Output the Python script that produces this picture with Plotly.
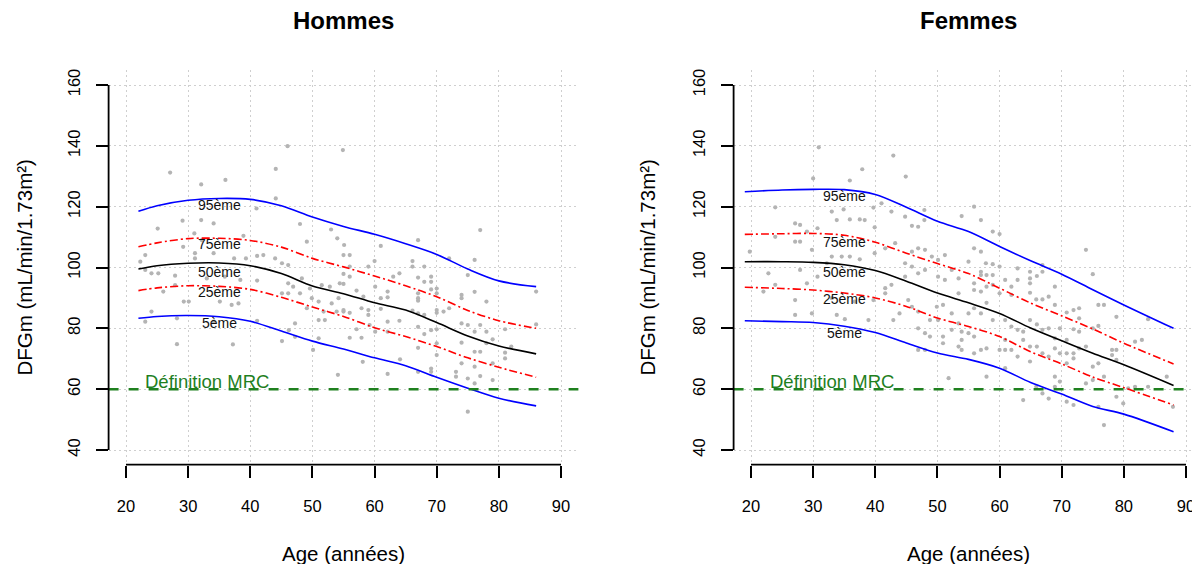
import plotly.graph_objects as go

# ---------------- data ----------------
PANEL_TITLES = ["Hommes", "Femmes"]
PCT_LABELS = ["95ème", "75ème", "50ème", "25ème", "5ème"]
X_TICKS = [20, 30, 40, 50, 60, 70, 80, 90]
Y_TICKS = [40, 60, 80, 100, 120, 140, 160]
MRC_THRESHOLD = 60
MRC_LABEL = "Définition MRC"

# Men percentile curves
men_curve_age = [22, 25, 30, 35, 40, 45, 50, 55, 60, 65, 70, 75, 80, 86]
men_p95 = [118.5, 120.3, 122.1, 122.7, 122.4, 120.3, 116.6, 113.5, 110.9, 107.8, 104.3, 99.5, 95.6, 93.7]
men_p75 = [106.8, 108.1, 109.5, 109.6, 108.9, 106.7, 103.0, 100.2, 97.2, 94.0, 90.4, 85.9, 82.5, 80.0]
men_p50 = [99.5, 100.6, 101.4, 101.5, 100.6, 98.0, 93.9, 91.4, 88.4, 86.0, 81.9, 77.5, 74.2, 71.6]
men_p25 = [92.4, 93.3, 94.0, 93.8, 92.8, 90.2, 87.0, 83.9, 80.2, 77.3, 74.0, 70.3, 67.2, 63.9]
men_p05 = [83.3, 83.9, 84.2, 83.8, 82.3, 79.1, 75.8, 73.2, 70.3, 67.7, 63.9, 60.3, 57.0, 54.5]
men_label_y = [120.6, 107.7, 98.6, 91.8, 81.7]

# Women percentile curves
women_curve_age = [19, 25, 30, 35, 40, 45, 50, 55, 60, 65, 70, 75, 80, 88]
women_p95 = [124.9, 125.5, 125.7, 125.6, 124.0, 119.8, 115.2, 111.8, 106.9, 102.2, 97.8, 92.7, 87.7, 80.0]
women_p75 = [110.9, 111.1, 111.2, 110.6, 108.3, 104.7, 101.3, 98.0, 93.2, 88.3, 84.1, 79.8, 75.1, 68.3]
women_p50 = [101.9, 101.9, 101.7, 100.9, 99.0, 95.5, 91.6, 88.4, 84.9, 80.1, 75.9, 71.8, 68.0, 61.2]
women_p25 = [93.5, 93.1, 92.6, 91.6, 90.0, 87.2, 83.4, 80.6, 77.3, 72.3, 68.3, 64.0, 60.5, 54.8]
women_p05 = [82.5, 82.2, 81.9, 80.7, 78.6, 75.2, 71.9, 69.8, 66.9, 62.2, 58.4, 54.3, 51.8, 46.0]
women_label_y = [123.5, 108.5, 98.6, 89.7, 78.6]

men_age = [27.1, 32.1, 36.0, 44.1, 46.0, 32.1, 34.1, 29.1, 25.1, 31.0, 32.2, 38.9, 41.0, 44.1, 48.0,
           53.0, 54.0, 49.1, 23.1, 22.3, 29.2, 31.1, 31.1, 34.1, 37.4, 39.3, 41.1, 42.1, 44.0, 45.1,
           46.1, 24.1, 25.2, 27.9, 23.1, 33.0, 35.9, 38.4, 41.1, 46.1, 48.3, 46.9, 49.6, 51.5, 52.8,
           54.4, 26.0, 27.9, 30.1, 29.3, 35.1, 37.0, 38.1, 45.1, 46.1, 48.0, 49.9, 51.0, 53.1, 54.2,
           53.9, 51.8, 49.1, 51.0, 52.0, 47.2, 24.1, 23.1, 28.2, 34.1, 41.1, 28.2, 37.2, 45.1, 50.1,
           51.0, 54.1, 46.2, 47.2,
           54.9, 55.1, 55.0, 56.0, 56.0, 55.0, 56.0, 55.0, 55.0, 55.0, 56.0, 57.1, 58.2, 57.9, 59.0,
           60.0, 60.1, 59.0, 59.0, 57.1, 56.0, 57.9, 58.1, 59.2, 60.1, 61.0, 61.0, 61.0, 62.1, 62.1,
           63.0, 64.0, 62.1, 62.1, 64.0, 64.1, 62.1, 66.1, 66.1, 67.0, 67.0, 67.0, 67.0, 67.0, 67.0,
           67.0, 67.0, 66.1, 68.0, 68.0, 68.0, 68.0, 69.1, 69.1, 69.1, 69.1, 69.1, 69.1, 67.0, 70.0,
           70.0, 70.0, 70.0, 70.0, 70.0, 70.0, 71.1, 72.0, 72.0, 73.1, 73.1, 74.0, 74.0, 74.0, 74.0,
           74.0, 75.0, 75.0, 75.0, 75.0, 76.1, 76.1, 76.1, 76.1, 76.1, 76.1, 77.0, 77.0, 77.0, 77.0,
           78.0, 78.0, 78.0, 79.0, 79.0, 79.0, 81.0, 81.0, 81.0, 82.0, 86.0, 86.0]
men_gfr = [131.2, 127.3, 128.8, 132.4, 139.9, 115.6, 114.5, 115.4, 112.8, 111.2, 109.0, 110.4, 119.4, 122.7, 114.3,
           112.5, 109.6, 108.5, 104.1, 101.9, 106.8, 104.7, 103.0, 104.7, 103.0, 103.0, 103.8, 104.1, 103.0, 101.4,
           100.8, 98.1, 98.1, 97.3, 99.2, 96.4, 97.0, 95.9, 95.7, 94.8, 96.4, 93.7, 93.1, 94.2, 93.7,
           94.8, 92.1, 94.2, 88.8, 88.8, 88.8, 87.7, 88.2, 91.5, 91.5, 91.5, 89.9, 88.8, 88.2, 89.9,
           85.5, 85.5, 86.6, 82.7, 82.7, 81.6, 85.5, 82.2, 83.3, 82.2, 82.5, 74.8, 74.7, 75.8, 72.9,
           76.7, 64.7, 79.4, 77.2,
           138.6, 107.4, 104.1, 104.1, 100.3, 97.9, 97.0, 94.6, 86.0, 85.5, 85.1, 92.4, 90.4, 86.6, 100.3,
           102.1, 93.7, 86.0, 84.4, 79.7, 76.9, 76.9, 69.0, 81.1, 78.9, 107.1, 89.9, 86.4, 92.1, 90.2,
           97.0, 98.1, 82.2, 78.9, 82.5, 69.8, 65.0, 102.1, 100.3, 109.0, 96.7, 91.5, 89.9, 89.1, 84.9,
           80.5, 73.6, 85.8, 100.3, 95.3, 84.4, 78.1, 97.0, 95.3, 92.8, 79.4, 66.8, 65.7, 65.7, 93.1,
           91.5, 86.0, 85.1, 79.7, 75.1, 71.2, 85.5, 103.0, 86.6, 65.7, 64.1, 91.0, 89.9, 81.6, 75.3,
           68.5, 97.5, 81.1, 63.5, 52.6, 102.5, 92.0, 78.9, 72.3, 67.4, 61.9, 112.3, 81.1, 72.3, 64.3,
           88.8, 78.9, 75.1, 76.4, 68.5, 63.0, 79.7, 72.0, 70.1, 74.0, 92.1, 81.3]

women_age = [30.9, 42.9, 37.9, 35.9, 44.9, 30.0, 23.9, 27.1, 27.9, 27.9, 27.1, 29.0, 29.8, 30.7, 33.0,
             33.8, 35.9, 34.9, 37.5, 38.3, 39.9, 41.0, 39.7, 42.6, 44.8, 45.9, 46.9, 47.9, 47.9, 23.9,
             22.8, 27.9, 29.0, 30.7, 32.2, 33.0, 34.6, 35.9, 37.5, 39.9, 41.6, 43.2, 44.8, 45.9, 46.9,
             48.0, 49.1, 50.1, 51.2, 45.9, 46.9, 48.0, 50.1, 51.2, 52.3, 53.4, 23.9, 22.0, 27.1, 27.1,
             29.8, 33.0, 33.8, 35.1, 36.7, 38.9, 39.7, 41.6, 41.6, 42.6, 42.9, 43.9, 44.8, 45.3, 45.9,
             46.9, 46.9, 46.9, 48.0, 48.8, 49.9, 50.1, 50.9, 50.9, 50.9, 52.3, 52.3, 53.4, 53.4, 53.4,
             51.8, 48.8, 48.0, 19.8,
             55.9, 53.9, 57.0, 58.9, 60.0, 55.9, 57.0, 55.0, 57.8, 58.9, 60.0, 57.0, 57.0, 57.9, 58.9,
             55.9, 55.9, 57.0, 57.9, 58.9, 60.0, 60.9, 61.9, 61.9, 62.9, 62.9, 64.9, 64.9, 64.9, 64.9,
             66.0, 66.9, 66.9, 65.9, 66.9, 67.9, 68.9, 68.9, 73.9, 75.0, 72.8, 71.9, 70.8, 72.8, 75.9,
             76.8, 78.8, 83.9, 55.9, 55.0, 57.0, 57.9, 58.9, 60.9, 61.9, 62.9, 63.8, 64.9, 66.0, 66.9,
             67.9, 68.9, 69.7, 70.8, 71.9, 72.8, 75.0, 75.9, 53.9, 53.9, 55.0, 55.9, 53.9, 55.9, 57.0,
             57.9, 60.0, 60.9, 60.9, 61.9, 62.9, 63.8, 64.9, 64.9, 66.0, 66.9, 67.9, 68.9, 68.9, 69.7,
             69.7, 70.8, 70.8, 71.9, 71.9, 72.8, 73.9, 73.9, 75.0, 75.0, 75.9, 76.8, 75.9, 76.8, 78.1,
             78.8, 78.8, 78.8, 78.1, 79.9, 80.7, 81.8, 82.9, 81.8, 83.9, 86.9, 87.9, 57.9, 60.9, 63.8,
             66.9, 67.9, 70.8, 71.9, 65.9, 68.9]
women_gfr = [139.5, 136.8, 132.3, 128.6, 129.9, 129.3, 119.8, 114.5, 114.0, 108.5, 108.5, 111.8, 105.8, 112.9, 118.4,
             115.6, 115.8, 119.1, 115.8, 115.6, 113.2, 121.1, 119.7, 118.4, 116.7, 113.7, 113.4, 115.6, 118.9, 110.1,
             98.1, 99.2, 94.8, 97.0, 101.4, 103.6, 103.6, 103.6, 102.7, 104.7, 106.3, 108.0, 101.4, 105.2, 106.3,
             105.8, 103.6, 102.5, 104.1, 100.3, 98.1, 99.2, 97.0, 95.9, 99.2, 96.4, 94.3, 92.1, 89.3, 84.4,
             84.9, 89.9, 84.4, 83.0, 88.8, 82.7, 89.3, 93.2, 91.5, 94.3, 82.7, 84.9, 97.0, 89.3, 87.1,
             85.5, 80.0, 72.9, 78.4, 82.7, 87.1, 82.7, 87.7, 77.3, 75.1, 84.9, 79.5, 91.5, 81.6, 74.0,
             63.6, 77.3, 72.9, 105.2,
             120.0, 116.9, 115.6, 111.8, 111.0, 106.3, 105.2, 101.9, 101.4, 101.1, 100.3, 98.6, 97.5, 97.5, 97.5,
             94.8, 92.6, 92.1, 93.7, 94.3, 91.5, 95.9, 93.7, 91.0, 99.7, 95.9, 98.6, 96.4, 94.8, 91.7,
             97.2, 100.8, 98.6, 89.5, 89.5, 90.4, 93.7, 87.7, 105.8, 97.8, 86.6, 86.0, 85.2, 83.3, 87.7,
             87.7, 83.8, 83.0, 86.6, 84.9, 84.9, 88.4, 82.7, 82.7, 80.6, 79.5, 78.9, 82.7, 81.3, 79.5,
             80.0, 76.7, 80.0, 76.2, 79.7, 78.9, 80.0, 80.8, 78.9, 76.2, 78.4, 77.3, 72.9, 71.8, 72.9,
             73.4, 72.9, 76.2, 72.9, 72.9, 70.7, 76.2, 74.0, 69.1, 74.0, 71.8, 70.7, 73.4, 64.1, 71.8,
             62.5, 71.8, 68.5, 71.8, 70.1, 73.4, 74.0, 61.9, 67.4, 63.0, 68.5, 64.1, 54.2, 48.2, 72.9,
             72.9, 69.6, 57.5, 71.2, 55.3, 60.3, 75.6, 76.2, 60.8, 60.8, 64.1, 54.2, 64.1, 66.9, 56.4,
             58.6, 56.9, 55.9, 54.8, 60.8, 60.8]

# ---------------- styles ----------------
FONT = "Liberation Sans, Arial, Helvetica, sans-serif"
GREY_PT = "#B4B4B4"
GRID = "#CFCFCF"
GREEN = "#1F801F"
curve_styles = [("#0000FF", "solid"), ("#FF0000", "8px,3px,2px,3px"), ("#000000", "solid"),
                ("#FF0000", "8px,3px,2px,3px"), ("#0000FF", "solid")]

W, H = 1192, 564
panels = [
    dict(xaxis="x", yaxis="y", dom=[108.6 / W, 578.4 / W], xr=[17.2, 92.8],
         ages=men_curve_age, curves=[men_p95, men_p75, men_p50, men_p25, men_p05],
         px=men_age, py=men_gfr, lab_y=men_label_y, cx=343.5, ytx=24),
    dict(xaxis="x2", yaxis="y2", dom=[733.6 / W, 1.0], xr=[17.2, 17.2 + (W - 733.6) / 6.2143],
         ages=women_curve_age, curves=[women_p95, women_p75, women_p50, women_p25, women_p05],
         px=women_age, py=women_gfr, lab_y=women_label_y, cx=968.5, ytx=647),
]
ydom = [1 - 464.6 / H, 1 - 70.4 / H]

fig = go.Figure()
annotations = []
shapes = []
for i, p in enumerate(panels):
    fig.add_trace(go.Scatter(x=p["px"], y=p["py"], mode="markers", xaxis=p["xaxis"], yaxis=p["yaxis"],
                             marker=dict(size=4.2, color=GREY_PT), showlegend=False, hoverinfo="skip"))
    for vals, (col, dash) in zip(p["curves"], curve_styles):
        fig.add_trace(go.Scatter(x=p["ages"], y=vals, mode="lines", xaxis=p["xaxis"], yaxis=p["yaxis"],
                                 line=dict(color=col, width=1.6, dash=dash, shape="spline", smoothing=0.9),
                                 showlegend=False, hoverinfo="skip"))
    for lab, ly in zip(PCT_LABELS, p["lab_y"]):
        annotations.append(dict(x=35, y=ly, xref=p["xaxis"], yref=p["yaxis"], text=lab, showarrow=False,
                                xanchor="center", yanchor="middle",
                                font=dict(family=FONT, size=14, color="#111111")))
    annotations.append(dict(x=33, y=62.6, xref=p["xaxis"], yref=p["yaxis"], text=MRC_LABEL, showarrow=False,
                            xanchor="center", yanchor="middle",
                            font=dict(family=FONT, size=18.5, color=GREEN)))
    xdomref = p["xaxis"] + " domain"
    ydomref = p["yaxis"] + " domain"
    shapes.append(dict(type="line", xref=xdomref, yref=p["yaxis"], x0=0, x1=1,
                       y0=MRC_THRESHOLD, y1=MRC_THRESHOLD,
                       line=dict(color=GREEN, width=2.5, dash="10px,10px")))
    # R-style axis lines (span first to last tick)
    shapes.append(dict(type="line", xref=xdomref, yref=p["yaxis"], x0=0, x1=0, y0=Y_TICKS[0], y1=Y_TICKS[-1],
                       line=dict(color="black", width=1.8)))
    shapes.append(dict(type="line", xref=p["xaxis"], yref=ydomref, x0=X_TICKS[0], x1=X_TICKS[-1], y0=0, y1=0,
                       line=dict(color="black", width=1.8)))
    # titles
    annotations.append(dict(x=p["cx"] / W, y=1 - 20 / H, xref="paper", yref="paper",
                            text="<b>" + PANEL_TITLES[i] + "</b>", xanchor="center", yanchor="middle",
                            showarrow=False, font=dict(family=FONT, size=24, color="black")))
    annotations.append(dict(x=p["cx"] / W, y=1 - 553 / H, xref="paper", yref="paper", text="Age (années)",
                            xanchor="center", yanchor="middle",
                            showarrow=False, font=dict(family=FONT, size=20.5, color="black")))
    annotations.append(dict(x=p["ytx"] / W, y=1 - 267.5 / H, xref="paper", yref="paper",
                            text="DFGm (mL/min/1.73m²)", xanchor="center", yanchor="middle",
                            textangle=-90, showarrow=False, font=dict(family=FONT, size=20.5, color="black")))

axis_common = dict(showline=False, zeroline=False, ticks="outside", ticklen=12, tickwidth=1.8, tickcolor="black",
                   showgrid=True, gridcolor=GRID, gridwidth=1, griddash="2px,3px",
                   tickfont=dict(family=FONT, size=16.5, color="black"), automargin=False, fixedrange=True,
                   ticklabeloverflow="allow")

layout = dict(width=W, height=H, margin=dict(l=0, r=0, t=0, b=0), paper_bgcolor="white", plot_bgcolor="white",
              annotations=annotations, shapes=shapes, showlegend=False)
for i, p in enumerate(panels):
    sx = "" if i == 0 else "2"
    layout["xaxis" + sx] = dict(axis_common, domain=p["dom"], range=p["xr"], tickvals=X_TICKS,
                                anchor="y" + sx, ticklabelstandoff=15)
    layout["yaxis" + sx] = dict(axis_common, domain=ydom, range=[35.2, 164.8], tickvals=Y_TICKS,
                                anchor="x" + sx, tickangle=-90, ticklabelstandoff=9)

fig.update_layout(**layout)
fig.write_html("out.html")
